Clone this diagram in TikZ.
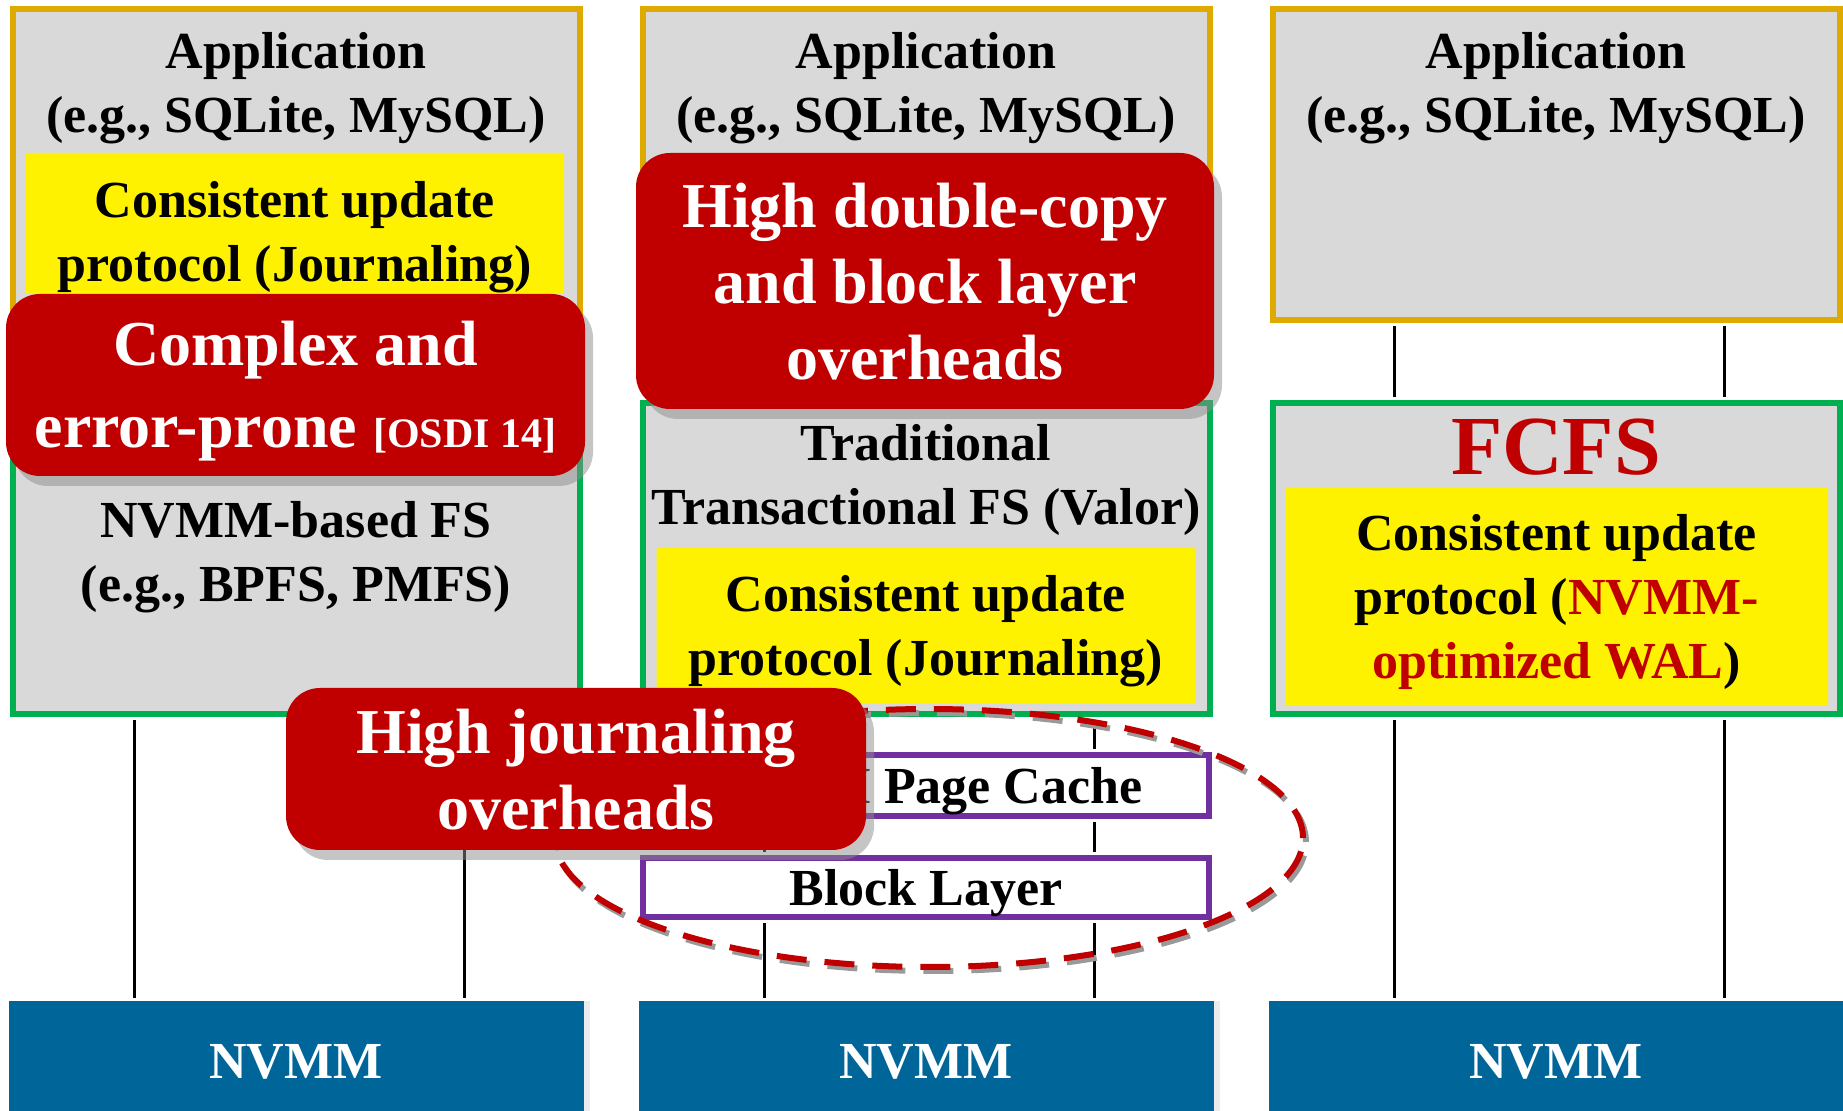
\documentclass[tikz,border=0pt]{standalone}
\usepackage{fontspec}
\setmainfont{Liberation Serif}
\usepackage{tikz}
\usetikzlibrary{shadows, positioning}
\definecolor{appgold}{RGB}{222,170,0}
\definecolor{fsgreen}{RGB}{0,176,80}
\definecolor{boxgrey}{RGB}{217,217,217}
\definecolor{callred}{RGB}{192,0,0}
\definecolor{nvmmblue}{RGB}{0,102,153}
\definecolor{layerpurple}{RGB}{112,48,160}
\tikzstyle{every node}=[font=\bfseries\fontsize{26}{32}\selectfont]
\tikzstyle{appbox}=[draw=appgold,line width=3pt,fill=boxgrey,minimum width=283.5pt,minimum height=155.5pt]
\tikzstyle{fsbox}=[draw=fsgreen,line width=3pt,fill=boxgrey,minimum width=283.5pt,minimum height=155.5pt]
\tikzstyle{proto}=[fill=yellow,rounded corners=1pt,inner sep=0pt]
\tikzstyle{layer}=[draw=layerpurple,line width=3pt,fill=white,minimum width=283pt,
  inner ysep=0pt,text height=23.5pt,text depth=5.5pt]
\tikzstyle{nvmm}=[fill=nvmmblue,text=white,minimum width=287.5pt,minimum height=55pt,
  text height=23pt,text depth=0pt,
  drop shadow={shadow xshift=3pt,shadow yshift=0pt,fill=black!15}]
\tikzstyle{callout}=[fill=callred,text=white,rounded corners=17pt,align=center,inner sep=2pt,
  font=\bfseries\fontsize{32}{38}\selectfont,text depth=-4pt,
  drop shadow={shadow xshift=4pt,shadow yshift=-5pt,fill=black!45}]
\tikzstyle{link}=[line width=1.5pt,shorten <=1.5pt,shorten >=1.5pt]
\tikzstyle{hot}=[line width=3pt,dash pattern=on 15pt off 9pt]
\newcommand{\venue}[1]{{\fontsize{21}{21}\selectfont #1}}

\begin{document}
\begin{tikzpicture}[x=0.5pt,y=-0.5pt]
  \useasboundingbox (0,0) rectangle (1843,1111);
  % three stacks
  \node[appbox] (app1) at (296,164.5) {};
  \node[appbox, right of=app1, node distance=315pt] (app2) {};
  \node[appbox, right of=app2, node distance=315pt] (app3) {};
  \node[fsbox, below of=app1, node distance=197pt] (fs1) {};
  \node[fsbox, below of=app2, node distance=197pt] (fs2) {};
  \node[fsbox, below of=app3, node distance=197pt] (fs3) {};
  \node[nvmm, below of=fs1, node distance=248.75pt] (mem1) {NVMM};
  \node[nvmm, below of=fs2, node distance=248.75pt] (mem2) {NVMM};
  \node[nvmm, below of=fs3, node distance=248.75pt] (mem3) {NVMM};
  \node[layer, minimum height=30.5pt, below of=fs2, node distance=113.5pt] (cache) {DRAM Page Cache};
  \node[layer, minimum height=29.5pt, below of=cache, node distance=51pt] (blk) {Block Layer};

  \node[align=center] (app1txt) at (296,88) {Application\\(e.g., SQLite, MySQL)};
  \node[align=center] (app2txt) at (926,88) {Application\\(e.g., SQLite, MySQL)};
  \node[align=center] (app3txt) at (1556,88) {Application\\(e.g., SQLite, MySQL)};
  \node[proto, minimum width=269pt, minimum height=70.5pt] (proto1) at (295,223.5) {};
  \node[align=center] (proto1txt) at (295,237) {Consistent update\\protocol (Journaling)};
  \node[align=center] (fs1txt) at (296,557) {NVMM-based FS\\(e.g., BPFS, PMFS)};
  \node[align=center] (fs2txt) at (926,480) {Traditional\\Transactional FS (Valor)};
  \node[proto, minimum width=269.5pt, minimum height=77.5pt] (proto2) at (926,625.5) {};
  \node[align=center] (proto2txt) at (926,631) {Consistent update\\protocol (Journaling)};
  \node[text=callred, font=\bfseries\fontsize{42}{42}\selectfont] (fcfs) at (1556,447) {FCFS};
  \node[proto, minimum width=271.5pt, minimum height=108.5pt] (proto3) at (1556.5,596.5) {};
  \node[align=center] (proto3txt) at (1556.5,602)
    {Consistent update\\protocol (\textcolor{callred}{NVMM-}\\\textcolor{callred}{optimized WAL})};

  % links
  \draw[link] ([xshift=-81pt]app1.south) -- ([xshift=-81pt]fs1.north);
  \draw[link] ([xshift=84pt]app1.south) -- ([xshift=84pt]fs1.north);
  \draw[link] ([xshift=-81pt]fs1.south) -- ([xshift=-81pt]mem1.north);
  \draw[link] ([xshift=84pt]fs1.south) -- ([xshift=84pt]mem1.north);
  \draw[link] ([xshift=-81pt]app2.south) -- ([xshift=-81pt]fs2.north);
  \draw[link] ([xshift=84pt]app2.south) -- ([xshift=84pt]fs2.north);
  \draw[link] ([xshift=-81pt]fs2.south) -- ([xshift=-81pt]cache.north);
  \draw[link] ([xshift=84pt]fs2.south) -- ([xshift=84pt]cache.north);
  \draw[link] ([xshift=-81pt]cache.south) -- ([xshift=-81pt]blk.north);
  \draw[link] ([xshift=84pt]cache.south) -- ([xshift=84pt]blk.north);
  \draw[link] ([xshift=-81pt]blk.south) -- ([xshift=-81pt]mem2.north);
  \draw[link] ([xshift=84pt]blk.south) -- ([xshift=84pt]mem2.north);
  \draw[link] ([xshift=-81pt]app3.south) -- ([xshift=-81pt]fs3.north);
  \draw[link] ([xshift=84pt]app3.south) -- ([xshift=84pt]fs3.north);
  \draw[link] ([xshift=-81pt]fs3.south) -- ([xshift=-81pt]mem3.north);
  \draw[link] ([xshift=84pt]fs3.south) -- ([xshift=84pt]mem3.north);

  % overhead region
  \draw[hot, black!40] (932,842) ellipse [x radius=187pt, y radius=64.5pt];
  \draw[hot, callred] (929,838) ellipse [x radius=187pt, y radius=64.5pt];

  % problems
  \node[callout, minimum width=289.5pt, minimum height=91pt,
    font=\bfseries\fontsize{32}{41}\selectfont, text depth=1pt] (complex) at (295.5,385)
    {Complex and\\error-prone \venue{[OSDI 14]}};
  \node[callout, minimum width=289pt, minimum height=128pt] (copy) at (925,281)
    {High double-copy\\and block layer\\overheads};
  \node[callout, minimum width=290pt, minimum height=81pt] (journal) at (576,769)
    {High journaling\\overheads};
\end{tikzpicture}
\end{document}
